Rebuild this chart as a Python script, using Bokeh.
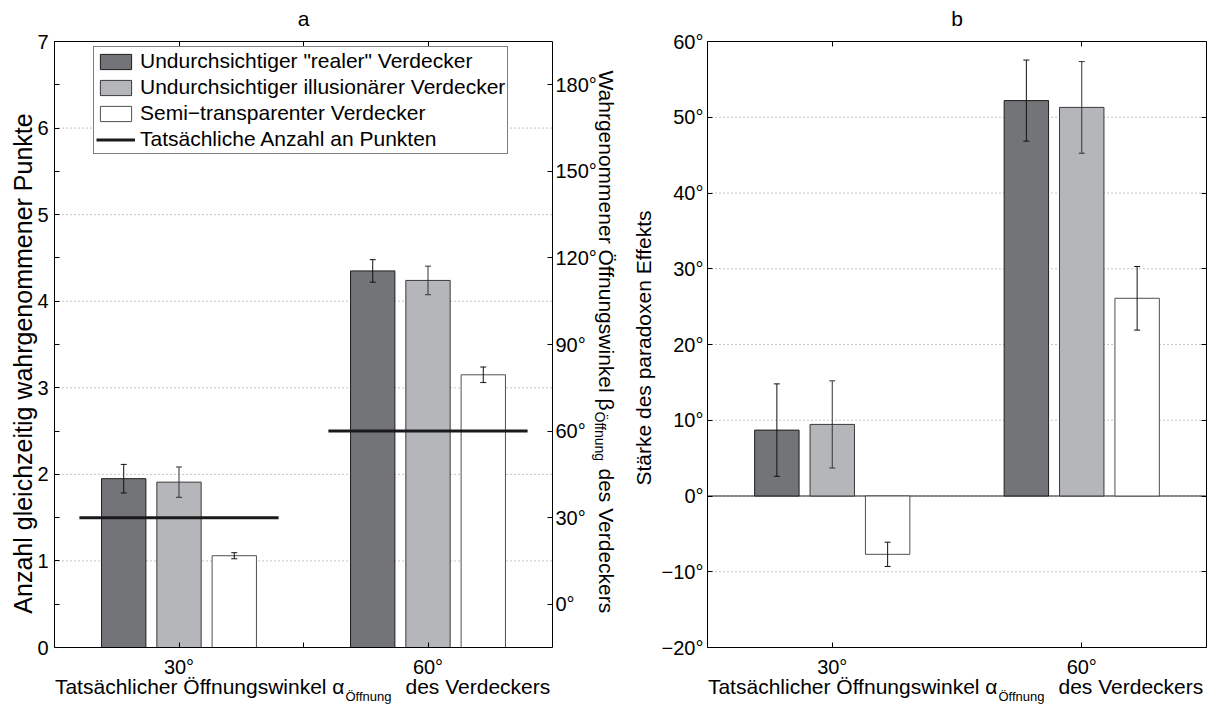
import math
from bokeh.plotting import figure
from bokeh.models import (Range1d, LinearAxis, FixedTicker, Whisker, TeeHead,
                          ColumnDataSource, Label, Legend, LegendItem)
from bokeh.layouts import row
from bokeh.embed import file_html
from bokeh.resources import INLINE

# ---------------- data ----------------
angle_labels = ["30°", "60°"]          # actual opening angle alpha
group_pos = [1, 2]
series_names = ['Undurchsichtiger "realer" Verdecker',
                'Undurchsichtiger illusionärer Verdecker',
                'Semi\u2212transparenter Verdecker']
actual_name = "Tatsächliche Anzahl an Punkten"

# panel a: perceived number of dots
a_real = [1.95, 4.35]
a_real_err = [0.165, 0.13]
a_illus = [1.91, 4.24]
a_illus_err = [0.175, 0.165]
a_semi = [1.06, 3.15]
a_semi_err = [0.035, 0.09]
a_actual = [1.5, 2.5]

# panel b: strength of paradoxical effect (degrees)
b_real = [8.7, 52.2]
b_real_err = [6.1, 5.35]
b_illus = [9.45, 51.3]
b_illus_err = [5.75, 6.05]
b_semi = [-7.7, 26.1]
b_semi_err = [1.6, 4.2]

a_yticks = [0, 1, 2, 3, 4, 5, 6, 7]
a_yminor = [0.5, 1.5, 2.5, 3.5, 4.5, 5.5, 6.5]
a_deg_ticks = [0, 30, 60, 90, 120, 150, 180]
b_yticks = [-20, -10, 0, 10, 20, 30, 40, 50, 60]

# ---------------- style / layout ----------------
FONT = "Liberation Sans"
FILL = ["#737478", "#b5b6b9", "#ffffff"]
EDGE = ["#1e1e1e", "#3a3a3a", "#505050"]
ERRC = ["#111111", "#333333", "#111111"]
OFFS = [-0.222, 0.0, 0.222]
BAR_W = 0.178
TICK_FS = "20px"
LAB_FS = "21px"
SUB_FS = "13px"
H = 704
X_LO, X_HI = 0.5, 2.5


def make_fig(width, frame_l, frame_r, frame_t, frame_b, y_lo, y_hi):
    # frame covers the whole canvas; the plot box is positioned inside it
    sx = (frame_r - frame_l) / (X_HI - X_LO)
    sy = (frame_b - frame_t) / (y_hi - y_lo)
    xr = Range1d(X_LO - frame_l / sx, X_LO + (width - frame_l) / sx)
    yr = Range1d(y_lo - (H - frame_b) / sy, y_lo + frame_b / sy)
    p = figure(width=width, height=H, x_range=xr, y_range=yr,
               output_backend="svg", toolbar_location=None, title=None,
               x_axis_location=None, y_axis_location=None,
               min_border=0, min_border_left=0, min_border_right=0,
               min_border_top=0, min_border_bottom=0)
    p.background_fill_color = "white"
    p.border_fill_color = "white"
    p.outline_line_color = None
    p.grid.visible = False
    return p


def axis(p, side, loc, bounds, ticks, overrides, minor=None, standoff=5, **kw):
    ax = LinearAxis(fixed_location=loc, bounds=bounds, **kw)
    ax.ticker = FixedTicker(ticks=ticks, minor_ticks=minor or [])
    ax.major_label_overrides = overrides
    ax.major_tick_in = 5
    ax.major_tick_out = 0
    ax.minor_tick_in = 5 if minor else 0
    ax.minor_tick_out = 0
    ax.axis_line_color = "black"
    ax.axis_line_width = 1
    ax.major_tick_line_color = "black"
    ax.minor_tick_line_color = "black"
    ax.major_label_text_font = FONT
    ax.major_label_text_font_size = TICK_FS
    ax.major_label_text_color = "black"
    ax.major_label_standoff = standoff
    p.add_layout(ax, side)
    return ax


def grid(p, ticks, lo, hi):
    inner = [t for t in ticks if lo < t < hi]
    p.segment(x0=[X_LO] * len(inner), x1=[X_HI] * len(inner), y0=inner, y1=inner,
              line_color="#8a8a8a", line_width=1, line_dash="1 3", level="underlay")


def draw_bars(p, vals_list, errs_list):
    rends = []
    for k, (vals, errs) in enumerate(zip(vals_list, errs_list)):
        xs = [g + OFFS[k] for g in group_pos]
        src = ColumnDataSource(dict(
            x=xs, top=vals,
            upper=[v + e for v, e in zip(vals, errs)],
            lower=[v - e for v, e in zip(vals, errs)]))
        r = p.vbar(x="x", top="top", bottom=0, width=BAR_W, source=src,
                   fill_color=FILL[k], line_color=EDGE[k], line_width=1)
        w = Whisker(base="x", upper="upper", lower="lower", source=src,
                    line_color=ERRC[k], line_width=1, level="annotation",
                    upper_head=TeeHead(size=6, line_color=ERRC[k], line_width=1),
                    lower_head=TeeHead(size=6, line_color=ERRC[k], line_width=1))
        p.add_layout(w)
        rends.append(r)
    return rends


def text(p, canvas_left, s, px, py, size=LAB_FS, align="left", baseline="alphabetic", angle=0.0):
    # px, py: page pixel position (from top-left); converted to screen units of the frame
    p.add_layout(Label(x=px - canvas_left, y=H - py, x_units="screen", y_units="screen",
                       text=s, text_font=FONT, text_font_size=size,
                       text_align=align, text_baseline=baseline, angle=angle,
                       text_color="black"))


def x_label(p, canvas_left, frame_l):
    text(p, canvas_left, "Tatsächlicher Öffnungswinkel \u03b1", frame_l + 290, 686, align="right")
    text(p, canvas_left, "Öffnung", frame_l + 291, 696, size=SUB_FS)
    text(p, canvas_left, "des Verdeckers", frame_l + 351, 686)


x_over = {g: lab for g, lab in zip(group_pos, angle_labels)}
no_lab = lambda ts: {t: "" for t in ts}

# ---------------- panel a ----------------
W1, L1, R1, T, B = 630, 54, 552, 41, 647
p1 = make_fig(W1, L1, R1, T, B, 0, 7)
deg_lo = (p1.y_range.start - 0.5) * 30
deg_hi = (p1.y_range.end - 0.5) * 30
p1.extra_y_ranges = {"deg": Range1d(deg_lo, deg_hi)}

grid(p1, a_yticks, 0, 7)
r1 = draw_bars(p1, [a_real, a_illus, a_semi], [a_real_err, a_illus_err, a_semi_err])
ln = p1.segment(x0=[g - 0.4 for g in group_pos], x1=[g + 0.4 for g in group_pos],
                y0=a_actual, y1=a_actual, line_color="#1a1a1a", line_width=3)

axis(p1, "below", 0, (X_LO, X_HI), group_pos, x_over, [1.5], standoff=8)
axis(p1, "above", 7, (X_LO, X_HI), group_pos, no_lab(group_pos), [1.5], standoff=0)
axis(p1, "left", X_LO, (0, 7), a_yticks, {t: str(t) for t in a_yticks}, a_yminor, standoff=6)
axis(p1, "right", X_HI, (-15, 195), a_deg_ticks, {t: f"{t}°" for t in a_deg_ticks},
     standoff=3, y_range_name="deg")

leg = Legend(items=[LegendItem(label=series_names[i], renderers=[r1[i]]) for i in range(3)]
             + [LegendItem(label=actual_name, renderers=[ln])],
             location=(93, H - 154), label_text_font=FONT, label_text_font_size=LAB_FS,
             label_text_color="black", glyph_width=39, glyph_height=19,
             label_standoff=5, spacing=2, padding=2, margin=0, label_height=19,
             border_line_color="black", border_line_width=1,
             background_fill_color="white", background_fill_alpha=1.0)
p1.add_layout(leg)

text(p1, 0, "a", (L1 + R1) / 2, 18, align="center")
text(p1, 0, "Anzahl gleichzeitig wahrgenommener Punkte", 22, 363, size="25px",
     align="center", baseline="middle", angle=math.pi / 2)
text(p1, 0, "Wahrgenommener Öffnungswinkel \u03b2", 606, 70, angle=-math.pi / 2)
text(p1, 0, "Öffnung", 599, 411, size="14px", angle=-math.pi / 2)
text(p1, 0, "des Verdeckers", 606, 468, angle=-math.pi / 2)
x_label(p1, 0, L1)

# ---------------- panel b ----------------
C2 = W1
W2, L2, R2 = 1211 - W1, 707, 1206
p2 = make_fig(W2, L2 - C2, R2 - C2, T, B, -20, 60)

grid(p2, b_yticks, -20, 60)
p2.segment(x0=[X_LO], x1=[X_HI], y0=[0], y1=[0], line_color="#222222", line_width=1,
           level="underlay")
draw_bars(p2, [b_real, b_illus, b_semi], [b_real_err, b_illus_err, b_semi_err])

b_over = {t: (f"\u2212{abs(t)}°" if t < 0 else f"{t}°") for t in b_yticks}
axis(p2, "below", -20, (X_LO, X_HI), group_pos, x_over, standoff=8)
axis(p2, "above", 60, (X_LO, X_HI), group_pos, no_lab(group_pos), standoff=0)
axis(p2, "left", X_LO, (-20, 60), b_yticks, b_over, standoff=4)
axis(p2, "right", X_HI, (-20, 60), b_yticks, no_lab(b_yticks), standoff=0)

text(p2, C2, "b", (L2 + R2) / 2, 18, align="center")
text(p2, C2, "Stärke des paradoxen Effekts", 643, 347.5,
     align="center", baseline="middle", angle=math.pi / 2)
x_label(p2, C2, L2)

layout = row(p1, p2)
open("out.html", "w").write(file_html(layout, INLINE))
